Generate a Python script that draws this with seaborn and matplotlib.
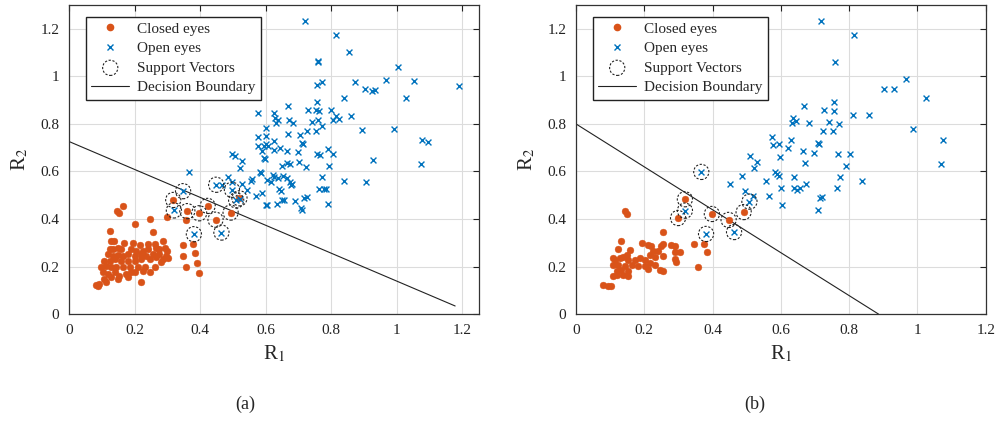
import matplotlib
matplotlib.use("Agg")
import matplotlib.pyplot as plt
import seaborn as sns
import pandas as pd
from matplotlib.lines import Line2D

# ---------------- data ----------------
# Panel (a)
a_closed_x = [0.164, 0.147, 0.152, 0.246, 0.200, 0.256, 0.124, 0.300, 0.358,
              0.129, 0.137, 0.169, 0.195, 0.216, 0.241, 0.261, 0.286,
              0.124, 0.134, 0.149, 0.159, 0.190, 0.205, 0.225, 0.241, 0.266, 0.276, 0.292, 0.300,
              0.119, 0.134, 0.149, 0.164, 0.180, 0.200, 0.220, 0.236, 0.256, 0.276, 0.297,
              0.108, 0.124, 0.139, 0.159, 0.180, 0.200, 0.220, 0.246, 0.266, 0.286, 0.302,
              0.098, 0.114, 0.129, 0.144, 0.164, 0.185, 0.210, 0.231, 0.261, 0.281,
              0.103, 0.119, 0.139, 0.154, 0.175, 0.190, 0.200, 0.225, 0.246,
              0.108, 0.129, 0.149, 0.180, 0.093, 0.114, 0.088, 0.220, 0.081,
              0.348, 0.378, 0.347, 0.385, 0.356, 0.389, 0.397,
              0.318, 0.361, 0.397, 0.423, 0.447, 0.493, 0.520]
a_closed_y = [0.456, 0.432, 0.425, 0.400, 0.381, 0.346, 0.350, 0.407, 0.395,
              0.308, 0.308, 0.298, 0.301, 0.290, 0.294, 0.294, 0.308,
              0.273, 0.273, 0.280, 0.273, 0.273, 0.266, 0.266, 0.273, 0.280, 0.273, 0.280, 0.266,
              0.252, 0.245, 0.248, 0.245, 0.252, 0.245, 0.252, 0.245, 0.252, 0.252, 0.245,
              0.224, 0.224, 0.231, 0.224, 0.224, 0.224, 0.231, 0.231, 0.238, 0.231, 0.234,
              0.196, 0.203, 0.196, 0.200, 0.196, 0.200, 0.196, 0.200, 0.196, 0.217,
              0.175, 0.168, 0.175, 0.161, 0.168, 0.175, 0.178, 0.182, 0.175,
              0.147, 0.154, 0.147, 0.154, 0.126, 0.133, 0.118, 0.135, 0.122,
              0.292, 0.295, 0.245, 0.255, 0.197, 0.216, 0.171,
              0.480, 0.433, 0.424, 0.455, 0.397, 0.427, 0.487]

a_open_x = [0.720, 0.814, 0.855, 1.004, 0.759, 0.761, 0.758, 0.773, 0.871, 0.968, 1.053, 1.190,
            0.902, 0.925, 0.934, 0.838, 1.027, 0.578, 0.758, 0.667, 0.728, 0.755, 0.763, 0.798,
            0.576, 0.626, 0.629, 0.637, 0.633, 0.671, 0.682, 0.742, 0.761, 0.814, 0.824, 0.804,
            0.861, 0.771, 0.727, 0.755, 0.600, 0.893, 0.990, 1.076, 1.094, 0.576, 0.600, 0.667,
            0.704, 0.577, 0.595, 0.602, 0.607, 0.626, 0.643, 0.712, 0.715, 0.595, 0.597, 0.588,
            0.626, 0.664, 0.700, 0.790, 0.806, 0.758, 0.765, 0.496, 0.506, 0.528, 0.522, 0.665,
            0.674, 0.702, 0.649, 0.722, 0.793, 0.928, 1.073, 0.367, 0.583, 0.585, 0.621, 0.626,
            0.637, 0.653, 0.665, 0.673, 0.678, 0.681, 0.559, 0.556, 0.529, 0.486, 0.498, 0.603,
            0.616, 0.641, 0.646, 0.773, 0.763, 0.778, 0.785, 0.840, 0.905, 0.588, 0.570, 0.542,
            0.497, 0.449, 0.466, 0.602, 0.605, 0.636, 0.651, 0.657, 0.689, 0.718, 0.725, 0.707,
            0.712, 0.790, 0.510, 0.523, 0.348, 0.320, 0.381, 0.465]
a_open_y = [1.231, 1.173, 1.103, 1.038, 1.061, 1.066, 0.965, 0.978, 0.978, 0.986, 0.979, 0.960,
            0.947, 0.937, 0.944, 0.908, 0.908, 0.930, 0.891, 0.874, 0.857, 0.857, 0.854, 0.860,
            0.846, 0.846, 0.825, 0.815, 0.805, 0.815, 0.804, 0.807, 0.816, 0.832, 0.821, 0.818,
            0.835, 0.792, 0.771, 0.771, 0.783, 0.773, 0.778, 0.731, 0.724, 0.745, 0.750, 0.759,
            0.755, 0.709, 0.708, 0.714, 0.705, 0.726, 0.700, 0.719, 0.715, 0.658, 0.652, 0.684,
            0.691, 0.684, 0.680, 0.693, 0.674, 0.674, 0.670, 0.672, 0.666, 0.644, 0.615, 0.635,
            0.632, 0.639, 0.625, 0.617, 0.623, 0.648, 0.631, 0.597, 0.596, 0.592, 0.583, 0.576,
            0.572, 0.579, 0.573, 0.554, 0.542, 0.547, 0.569, 0.558, 0.549, 0.576, 0.554, 0.565,
            0.554, 0.526, 0.516, 0.575, 0.528, 0.528, 0.528, 0.558, 0.555, 0.511, 0.495, 0.523,
            0.523, 0.544, 0.544, 0.459, 0.457, 0.464, 0.481, 0.481, 0.476, 0.489, 0.492, 0.445,
            0.438, 0.461, 0.478, 0.486, 0.517, 0.436, 0.336, 0.343]

a_sv_x = [0.318, 0.361, 0.397, 0.423, 0.447, 0.493, 0.520,
          0.348, 0.320, 0.381, 0.465, 0.449, 0.497, 0.510]
a_sv_y = [0.480, 0.433, 0.424, 0.455, 0.397, 0.427, 0.487,
          0.517, 0.436, 0.336, 0.343, 0.544, 0.523, 0.478]

a_boundary_x = [0.0, 1.178]
a_boundary_y = [0.726, 0.034]

# Panel (b)
b_closed_x = [0.145, 0.150, 0.255, 0.133, 0.124, 0.158, 0.192, 0.211, 0.221, 0.250, 0.255,
              0.279, 0.289, 0.304, 0.289, 0.345, 0.376, 0.384, 0.357,
              0.109, 0.114, 0.128, 0.138, 0.148, 0.153, 0.172, 0.187, 0.201, 0.216, 0.231,
              0.240, 0.226, 0.289, 0.294, 0.109, 0.124, 0.143, 0.163, 0.182, 0.201, 0.211,
              0.231, 0.245, 0.255, 0.119, 0.133, 0.153, 0.109, 0.119, 0.153, 0.138,
              0.080, 0.094, 0.104, 0.216, 0.255,
              0.319, 0.299, 0.398, 0.447, 0.491]
b_closed_y = [0.432, 0.421, 0.344, 0.309, 0.274, 0.268, 0.299, 0.292, 0.285, 0.285, 0.296,
              0.292, 0.285, 0.260, 0.260, 0.296, 0.296, 0.260, 0.196,
              0.236, 0.226, 0.236, 0.240, 0.250, 0.226, 0.229, 0.236, 0.229, 0.250, 0.240,
              0.264, 0.264, 0.232, 0.218, 0.208, 0.208, 0.201, 0.208, 0.204, 0.201, 0.189,
              0.208, 0.187, 0.180, 0.180, 0.187, 0.180, 0.159, 0.166, 0.159, 0.166,
              0.124, 0.119, 0.117, 0.215, 0.246,
              0.483, 0.404, 0.421, 0.396, 0.429]

b_open_x = [0.719, 0.814, 0.759, 0.967, 0.901, 0.932, 1.024, 0.756, 0.668, 0.727, 0.757,
            0.632, 0.637, 0.644, 0.681, 0.740, 0.769, 0.812, 0.858, 0.724, 0.753, 0.987,
            1.074, 1.070, 0.574, 0.576, 0.596, 0.630, 0.620, 0.664, 0.708, 0.712, 0.696,
            0.766, 0.802, 0.670, 0.792, 0.510, 0.521, 0.530, 0.557, 0.487, 0.584, 0.588,
            0.596, 0.598, 0.639, 0.674, 0.639, 0.646, 0.656, 0.599, 0.564, 0.495, 0.518,
            0.450, 0.603, 0.710, 0.714, 0.720, 0.764, 0.773, 0.837,
            0.367, 0.319, 0.381, 0.463, 0.508]
b_open_y = [1.231, 1.173, 1.062, 0.987, 0.947, 0.945, 0.908, 0.893, 0.874, 0.857, 0.855,
            0.804, 0.823, 0.813, 0.804, 0.808, 0.799, 0.836, 0.836, 0.772, 0.772, 0.779,
            0.731, 0.632, 0.745, 0.710, 0.714, 0.731, 0.699, 0.688, 0.720, 0.717, 0.679,
            0.672, 0.674, 0.634, 0.622, 0.664, 0.615, 0.639, 0.561, 0.580, 0.596, 0.588,
            0.582, 0.660, 0.577, 0.547, 0.531, 0.524, 0.531, 0.529, 0.495, 0.519, 0.495,
            0.547, 0.458, 0.439, 0.487, 0.493, 0.529, 0.577, 0.561,
            0.598, 0.435, 0.337, 0.345, 0.473]

b_sv_x = [0.319, 0.299, 0.398, 0.447, 0.491, 0.367, 0.319, 0.381, 0.463, 0.508]
b_sv_y = [0.483, 0.404, 0.421, 0.396, 0.429, 0.598, 0.435, 0.337, 0.345, 0.473]

b_boundary_x = [0.0, 0.886]
b_boundary_y = [0.800, 0.0]

tick_values = [0, 0.2, 0.4, 0.6, 0.8, 1.0, 1.2]
tick_labels = ["0", "0.2", "0.4", "0.6", "0.8", "1", "1.2"]
series_labels = ["Closed eyes", "Open eyes", "Support Vectors", "Decision Boundary"]
panel_labels = ["(a)", "(b)"]

# ---------------- style ----------------
sns.set_style("white")
plt.rcParams["font.family"] = ["Liberation Serif", "DejaVu Serif"]
plt.rcParams["mathtext.fontset"] = "stix"

ORANGE = "#D95319"
BLUE = "#0072BD"

fig = plt.figure(figsize=(9.97, 4.21), dpi=100)
ax_a = fig.add_axes([0.0692, 0.254, 0.411, 0.734])
ax_b = fig.add_axes([0.5777, 0.254, 0.411, 0.734])

panels = [
    (ax_a, a_closed_x, a_closed_y, a_open_x, a_open_y, a_sv_x, a_sv_y,
     a_boundary_x, a_boundary_y, 1.25),
    (ax_b, b_closed_x, b_closed_y, b_open_x, b_open_y, b_sv_x, b_sv_y,
     b_boundary_x, b_boundary_y, 1.2),
]

for i, (ax, cx, cy, ox, oy, sx, sy, bx, by, xmax) in enumerate(panels):
    closed = pd.DataFrame({"R1": cx, "R2": cy})
    opened = pd.DataFrame({"R1": ox, "R2": oy})
    sv = pd.DataFrame({"R1": sx, "R2": sy})
    bnd = pd.DataFrame({"R1": bx, "R2": by})

    sns.scatterplot(data=closed, x="R1", y="R2", ax=ax, color=ORANGE, s=24,
                    edgecolor=ORANGE, linewidth=0.3, marker="o", zorder=3)
    sns.scatterplot(data=opened, x="R1", y="R2", ax=ax, color=BLUE, s=18,
                    marker="x", linewidth=1.0, zorder=3)
    sv_coll = ax.scatter(sv["R1"], sv["R2"], s=120, facecolors="none",
                         edgecolors="#222222", linewidths=0.8,
                         linestyles=(0, (2, 1.5)), zorder=4)
    sns.lineplot(data=bnd, x="R1", y="R2", ax=ax, color="#222222", linewidth=0.8,
                 zorder=2)

    ax.set_xlim(0, xmax)
    ax.set_ylim(0, 1.3)
    ax.set_xticks(tick_values)
    ax.set_xticklabels(tick_labels)
    ax.set_yticks(tick_values)
    ax.set_yticklabels(tick_labels)
    ax.grid(True, color="#dcdcdc", linewidth=0.8)
    ax.set_axisbelow(True)
    ax.tick_params(direction="in", length=4, width=0.8, top=True, right=True,
                   labelsize=11, colors="#222222", pad=7)
    for sp in ax.spines.values():
        sp.set_visible(True)
        sp.set_color("#333333")
        sp.set_linewidth(0.9)
    ax.set_xlabel("R$_1$", fontsize=15, labelpad=5)
    ax.set_ylabel("R$_2$", fontsize=15, labelpad=7)

    handles = [
        Line2D([], [], marker="o", color=ORANGE, linestyle="none", markersize=4.5),
        Line2D([], [], marker="x", color=BLUE, linestyle="none", markersize=4.5,
               markeredgewidth=1.0),
        sv_coll,
        Line2D([], [], color="#222222", linewidth=0.8),
    ]
    leg = ax.legend(handles, series_labels, loc="upper left",
                    bbox_to_anchor=(0.041, 0.962), borderaxespad=0, fontsize=11,
                    frameon=True, fancybox=False, edgecolor="#222222",
                    handlelength=2.5, handletextpad=0.5, labelspacing=0.38,
                    borderpad=0.35, framealpha=1, scatterpoints=1)
    leg.get_frame().set_linewidth(1.0)

fig.text(0.246, 0.04, panel_labels[0], ha="center", va="center", fontsize=13)
fig.text(0.757, 0.04, panel_labels[1], ha="center", va="center", fontsize=13)

fig.savefig("out.png", dpi=100)
